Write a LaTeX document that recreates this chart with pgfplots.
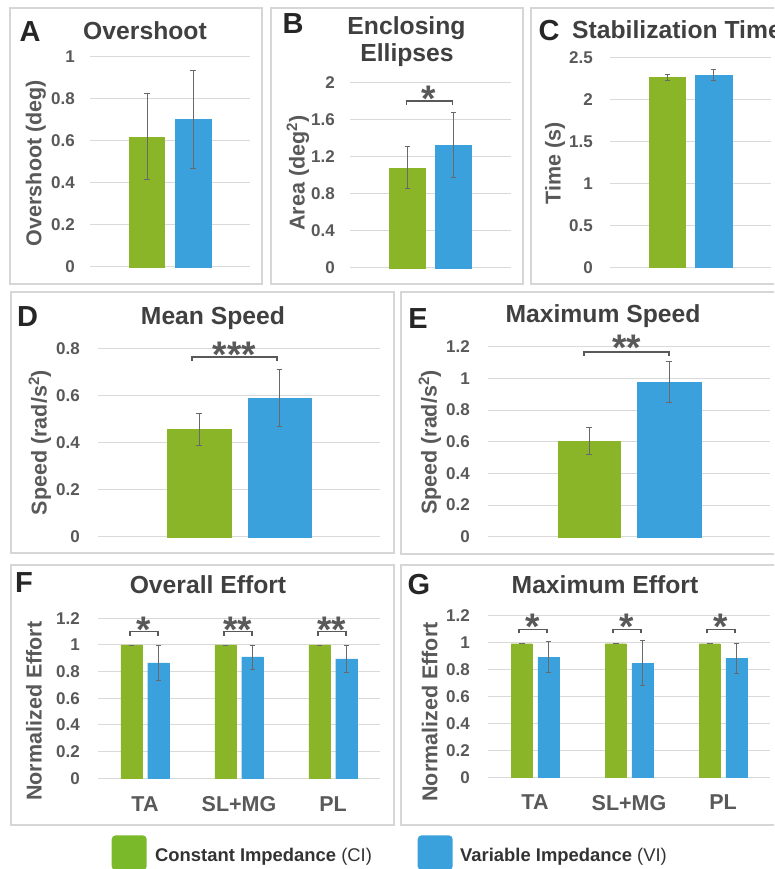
\documentclass[border=0pt]{standalone}
\usepackage{fontspec}
\setmainfont{Liberation Sans}
\usepackage{pgfplots}
\pgfplotsset{compat=1.18}
\definecolor{cigreen}{RGB}{138,181,41}
\definecolor{viblue}{RGB}{58,161,220}
\definecolor{leggreen}{RGB}{122,185,41}
\definecolor{legblue}{RGB}{58,161,220}
\definecolor{gridgray}{RGB}{217,217,217}
\definecolor{boxgray}{RGB}{214,214,214}
\definecolor{txtgray}{RGB}{89,89,89}
\definecolor{ttlgray}{RGB}{64,64,64}
\definecolor{errgray}{RGB}{105,105,105}
\definecolor{lettergray}{RGB}{38,38,38}
\definecolor{leggray}{RGB}{51,51,51}

\newcommand\ticksfont{\fontsize{17}{17}\selectfont\bfseries}
\newcommand\labfont{\fontsize{21.5}{21.5}\selectfont\bfseries}
\newcommand\ttlfont{\fontsize{24.7}{24.7}\selectfont\bfseries}
\newcommand\letfont{\fontsize{29}{29}\selectfont\bfseries}
\newcommand\starfont{\fontsize{37}{37}\selectfont\bfseries}
\newcommand\legfont{\fontsize{18.4}{18.4}\selectfont}

\tikzset{
  brk/.style={draw=txtgray, line width=1.6pt},
  stars/.style={font=\starfont, text=txtgray, anchor=base, yshift=-10.5pt, inner sep=0pt},
}
\pgfplotsset{
  panel/.style={
    scale only axis, clip=false, ymin=0, anchor=south west,
    axis line style={draw=none},
    major tick length=0pt,
    ymajorgrids, grid style={gridgray, line width=1pt},
    xtick=\empty,
    /pgf/number format/assume math mode=true,
    yticklabel style={font=\ticksfont, text=txtgray, anchor=east, inner sep=0pt},
    ylabel style={font=\labfont, text=txtgray, anchor=center},
    ybar,
  },
  errs/.style={
    error bars/y dir=both, error bars/y explicit,
    error bars/error mark=|,
    error bars/error bar style={draw=errgray, line width=0.9pt},
    error bars/error mark options={draw=errgray, line width=0.9pt, mark size=2.8pt},
  },
  gbar/.style={errs, fill=cigreen, draw=cigreen, line width=0.1pt},
  bbar/.style={errs, fill=viblue, draw=viblue, line width=0.1pt},
}

\begin{document}
\begin{tikzpicture}[x=1pt,y=1pt]
\useasboundingbox (0,0) rectangle (774,869);
\clip (0,0) rectangle (774,869);

% panel frames
\begin{scope}[draw=boxgray, line width=1.5pt]
\draw (10,585) rectangle (262,861);
\draw (271,585) rectangle (523,861);
\draw (531,585) rectangle (780,861);
\draw (11,316) rectangle (394,577);
\draw (401,315) rectangle (780,577);
\draw (11,44) rectangle (394,304);
\draw (401,44) rectangle (780,304);
\end{scope}

% titles and panel letters
\begin{scope}[every node/.style={inner sep=0pt}]
\node[anchor=base, font=\ttlfont, text=ttlgray] at (145,829.7) {Overshoot};
\node[anchor=base, font=\ttlfont, text=ttlgray] at (406.5,834) {Enclosing};
\node[anchor=base, font=\ttlfont, text=ttlgray] at (407,807.3) {Ellipses};
\node[anchor=base west, font=\ttlfont, text=ttlgray] at (572,830.7) {Stabilization Time};
\node[anchor=base, font=\ttlfont, text=ttlgray] at (213,544.7) {Mean Speed};
\node[anchor=base, font=\ttlfont, text=ttlgray] at (603,546.7) {Maximum Speed};
\node[anchor=base, font=\ttlfont, text=ttlgray] at (208,275.7) {Overall Effort};
\node[anchor=base, font=\ttlfont, text=ttlgray] at (605,275.7) {Maximum Effort};
\node[anchor=base, font=\letfont, text=lettergray] at (30,827) {A};
\node[anchor=base, font=\letfont, text=lettergray] at (293,835) {B};
\node[anchor=base, font=\letfont, text=lettergray] at (549,828) {C};
\node[anchor=base, font=\letfont, text=lettergray] at (27.5,542.3) {D};
\node[anchor=base, font=\letfont, text=lettergray] at (418,540.7) {E};
\node[anchor=base, font=\letfont, text=lettergray] at (24,276) {F};
\node[anchor=base, font=\letfont, text=lettergray] at (419,274) {G};
\end{scope}

% A: Overshoot
\begin{axis}[panel, at={(90pt,602pt)}, width=160pt, height=210pt,
  xmin=-80, xmax=80, ymax=1, ytick={0,0.2,0.4,0.6,0.8,1},
  yticklabel style={xshift=-15pt},
  ylabel={Overshoot (deg)}, ylabel style={at={(axis description cs:-0.338,0.495)}}]
\addplot[gbar, bar width=35pt, bar shift=-23pt] coordinates {(0,0.62) +- (0,0.205)};
\addplot[bbar, bar width=36pt, bar shift=23pt] coordinates {(0,0.703) +- (0,0.233)};
\end{axis}

% B: Enclosing Ellipses
\begin{axis}[panel, at={(350pt,601.3pt)}, width=161pt, height=185pt,
  xmin=-80.5, xmax=80.5, ymax=2, ytick={0,0.4,0.8,1.2,1.6,2},
  yticklabel style={xshift=-15pt},
  ylabel={Area (deg\textsuperscript{2})}, ylabel style={at={(axis description cs:-0.323,0.512)}}]
\addplot[gbar, bar width=36pt, bar shift=-23pt] coordinates {(0,1.081) +- (0,0.227)};
\addplot[bbar, bar width=36pt, bar shift=23pt] coordinates {(0,1.33) +- (0,0.35)};
\draw[brk] (axis cs:-24,1.757) -- (axis cs:-24,1.80) -- (axis cs:22,1.80) -- (axis cs:22,1.757);
\node[stars] at (axis cs:-1.5,1.80) {*};
\end{axis}

% C: Stabilization Time
\begin{axis}[panel, at={(610pt,601.7pt)}, width=161pt, height=210pt,
  xmin=-80.5, xmax=80.5, ymax=2.5, ytick={0,0.5,1,1.5,2,2.5},
  yticklabel style={xshift=-17pt},
  ylabel={Time (s)}, ylabel style={at={(axis description cs:-0.342,0.494)}}]
\addplot[gbar, bar width=36pt, bar shift=-23pt] coordinates {(0,2.265) +- (0,0.035)};
\addplot[bbar, bar width=37pt, bar shift=23pt] coordinates {(0,2.29) +- (0,0.06)};
\end{axis}

% D: Mean Speed
\begin{axis}[panel, at={(98pt,332.3pt)}, width=282pt, height=188.4pt,
  xmin=-141, xmax=141, ymax=0.8, ytick={0,0.2,0.4,0.6,0.8},
  yticklabel style={xshift=-18pt},
  ylabel={Speed (rad/s\textsuperscript{2})}, ylabel style={at={(axis description cs:-0.206,0.5)}}]
\addplot[gbar, bar width=64pt, bar shift=-40pt] coordinates {(0,0.457) +- (0,0.068)};
\addplot[bbar, bar width=63pt, bar shift=40.5pt] coordinates {(0,0.59) +- (0,0.12)};
\draw[brk] (axis cs:-47,0.746) -- (axis cs:-47,0.764) -- (axis cs:38,0.764) -- (axis cs:38,0.746);
\node[stars] at (axis cs:-4.5,0.764) {***};
\end{axis}

% E: Maximum Speed
\begin{axis}[panel, at={(488pt,332.3pt)}, width=282pt, height=190pt,
  xmin=-141, xmax=141, ymax=1.2, ytick={0,0.2,0.4,0.6,0.8,1,1.2},
  yticklabel style={xshift=-18pt},
  ylabel={Speed (rad/s\textsuperscript{2})}, ylabel style={at={(axis description cs:-0.206,0.496)}}]
\addplot[gbar, bar width=62pt, bar shift=-40pt] coordinates {(0,0.606) +- (0,0.084)};
\addplot[bbar, bar width=64pt, bar shift=40pt] coordinates {(0,0.975) +- (0,0.13)};
\draw[brk] (axis cs:-45,1.143) -- (axis cs:-45,1.168) -- (axis cs:40,1.168) -- (axis cs:40,1.143);
\node[stars, yshift=2pt] at (axis cs:-2.5,1.168) {**};
\end{axis}

% F: Overall Effort
\begin{axis}[panel, at={(98pt,90.7pt)}, width=282pt, height=160pt,
  xmin=-0.5, xmax=2.5, ymax=1.2, ytick={0,0.2,0.4,0.6,0.8,1,1.2},
  xtick={0,1,2}, xticklabels={TA,SL+MG,PL},
  xticklabel style={font=\labfont, text=txtgray, anchor=north, inner sep=0pt, yshift=-18pt},
  yticklabel style={xshift=-18pt},
  ylabel={Normalized Effort}, ylabel style={at={(axis description cs:-0.227,0.42)}}]
\addplot[gbar, bar width=21.5pt, bar shift=-13.4pt] coordinates {(0,1) +- (0,0) (1,1) +- (0,0) (2,1) +- (0,0)};
\addplot[bbar, bar width=21.5pt, bar shift=13.4pt] coordinates {(0,0.865) +- (0,0.13) (1,0.91) +- (0,0.09) (2,0.895) +- (0,0.1)};
\draw[brk] (axis cs:-0.16,1.067) -- (axis cs:-0.16,1.10) -- (axis cs:0.138,1.10) -- (axis cs:0.138,1.067);
\draw[brk] (axis cs:0.84,1.067) -- (axis cs:0.84,1.10) -- (axis cs:1.138,1.10) -- (axis cs:1.138,1.067);
\draw[brk] (axis cs:1.84,1.067) -- (axis cs:1.84,1.10) -- (axis cs:2.138,1.10) -- (axis cs:2.138,1.067);
\node[stars] at (axis cs:-0.011,1.10) {*};
\node[stars] at (axis cs:0.989,1.10) {**};
\node[stars] at (axis cs:1.989,1.10) {**};
\end{axis}

% G: Maximum Effort
\begin{axis}[panel, at={(488pt,91.7pt)}, width=282pt, height=161.3pt,
  xmin=-0.5, xmax=2.5, ymax=1.2, ytick={0,0.2,0.4,0.6,0.8,1,1.2},
  xtick={0,1,2}, xticklabels={TA,SL+MG,PL},
  xticklabel style={font=\labfont, text=txtgray, anchor=north, inner sep=0pt, yshift=-17.7pt},
  yticklabel style={xshift=-18pt},
  ylabel={Normalized Effort}, ylabel style={at={(axis description cs:-0.207,0.405)}}]
\addplot[gbar, bar width=21pt, bar shift=-13.3pt] coordinates {(0,0.995) +- (0,0) (1,0.995) +- (0,0) (2,0.995) +- (0,0)};
\addplot[bbar, bar width=21pt, bar shift=13.3pt] coordinates {(0,0.893) +- (0,0.115) (1,0.848) +- (0,0.168) (2,0.885) +- (0,0.113)};
\draw[brk] (axis cs:-0.173,1.071) -- (axis cs:-0.173,1.101) -- (axis cs:0.125,1.101) -- (axis cs:0.125,1.071);
\draw[brk] (axis cs:0.827,1.071) -- (axis cs:0.827,1.101) -- (axis cs:1.125,1.101) -- (axis cs:1.125,1.071);
\draw[brk] (axis cs:1.827,1.071) -- (axis cs:1.827,1.101) -- (axis cs:2.125,1.101) -- (axis cs:2.125,1.071);
\node[stars] at (axis cs:-0.024,1.101) {*};
\node[stars] at (axis cs:0.976,1.101) {*};
\node[stars] at (axis cs:1.976,1.101) {*};
\end{axis}

% legend
\fill[leggreen, rounded corners=4pt] (111.7,-1.3) rectangle (146.7,33.7);
\node[anchor=base west, font=\legfont, text=leggray, inner sep=0pt] at (155,8) {\textbf{Constant Impedance} (CI)};
\fill[legblue, rounded corners=4pt] (417.7,-1.3) rectangle (452.7,33.7);
\node[anchor=base west, font=\legfont, text=leggray, inner sep=0pt] at (460,8) {\textbf{Variable Impedance} (VI)};
\end{tikzpicture}
\end{document}
